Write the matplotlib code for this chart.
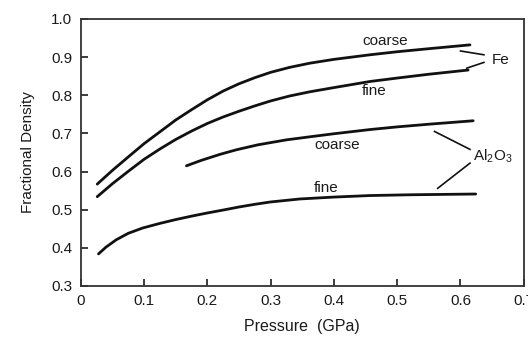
import matplotlib
matplotlib.use("Agg")
import matplotlib.pyplot as plt

plt.rcParams['font.family'] = ['Liberation Sans', 'DejaVu Sans']
plt.rcParams['mathtext.fontset'] = 'custom'
plt.rcParams['mathtext.rm'] = 'Liberation Sans'
plt.rcParams['mathtext.it'] = 'Liberation Sans'

# Data
fe_coarse_x = [0.026, 0.05, 0.077, 0.10, 0.125, 0.15, 0.175, 0.20, 0.225, 0.25,
               0.275, 0.30, 0.33, 0.362, 0.40, 0.457, 0.50, 0.55, 0.615]
fe_coarse_y = [0.567, 0.603, 0.641, 0.673, 0.704, 0.735, 0.762, 0.788, 0.811, 0.830,
               0.846, 0.860, 0.873, 0.884, 0.894, 0.906, 0.914, 0.922, 0.932]
fe_fine_x = [0.026, 0.05, 0.077, 0.10, 0.125, 0.15, 0.175, 0.20, 0.225, 0.25,
             0.275, 0.30, 0.33, 0.362, 0.40, 0.457, 0.50, 0.55, 0.612]
fe_fine_y = [0.534, 0.568, 0.603, 0.632, 0.659, 0.684, 0.706, 0.726, 0.743, 0.758,
             0.772, 0.785, 0.798, 0.809, 0.820, 0.836, 0.845, 0.855, 0.866]
al_coarse_x = [0.167, 0.19, 0.22, 0.246, 0.28, 0.325, 0.362, 0.40, 0.457, 0.50, 0.55, 0.62]
al_coarse_y = [0.615, 0.629, 0.645, 0.657, 0.670, 0.683, 0.691, 0.699, 0.710, 0.717, 0.724, 0.733]
al_fine_x = [0.028, 0.04, 0.056, 0.075, 0.098, 0.125, 0.15, 0.175, 0.199, 0.225,
             0.25, 0.275, 0.299, 0.346, 0.40, 0.457, 0.52, 0.624]
al_fine_y = [0.384, 0.402, 0.421, 0.438, 0.452, 0.464, 0.474, 0.483, 0.491, 0.499,
             0.507, 0.514, 0.520, 0.528, 0.533, 0.537, 0.539, 0.541]

x_ticks = [0, 0.1, 0.2, 0.3, 0.4, 0.5, 0.6, 0.7]
x_tick_labels = ['0', '0.1', '0.2', '0.3', '0.4', '0.5', '0.6', '0.7']
y_ticks = [0.3, 0.4, 0.5, 0.6, 0.7, 0.8, 0.9, 1.0]
y_tick_labels = ['0.3', '0.4', '0.5', '0.6', '0.7', '0.8', '0.9', '1.0']

fig = plt.figure(figsize=(5.28, 3.38), dpi=100)
ax = fig.add_axes([0.153, 0.154, 0.839, 0.790])

lc = '#111111'
lw = 2.0
for xs, ys in [(fe_coarse_x, fe_coarse_y), (fe_fine_x, fe_fine_y),
               (al_coarse_x, al_coarse_y), (al_fine_x, al_fine_y)]:
    ax.plot(xs, ys, color=lc, lw=lw, solid_capstyle='round', solid_joinstyle='round')

ax.set_xlim(0, 0.7)
ax.set_ylim(0.3, 1.0)
ax.set_xticks(x_ticks)
ax.set_xticklabels(x_tick_labels)
ax.set_yticks(y_ticks)
ax.set_yticklabels(y_tick_labels)
ax.tick_params(direction='in', length=5, width=1.2, labelsize=11,
               colors='#1a1a1a', pad=6)
for s in ax.spines.values():
    s.set_linewidth(1.3)
    s.set_color('#333333')

ax.set_xlabel('Pressure  (GPa)', fontsize=11.5, color='#1a1a1a', labelpad=8)
ax.set_ylabel('Fractional Density', fontsize=11, color='#1a1a1a', labelpad=12)

tc = '#1a1a1a'
fs = 11
ax.text(0.481, 0.943, 'coarse', fontsize=fs, color=tc, ha='center', va='center')
ax.text(0.463, 0.812, 'fine', fontsize=fs, color=tc, ha='center', va='center')
ax.text(0.663, 0.893, 'Fe', fontsize=fs, color=tc, ha='center', va='center')
ax.text(0.405, 0.670, 'coarse', fontsize=fs, color=tc, ha='center', va='center')
ax.text(0.387, 0.556, 'fine', fontsize=fs, color=tc, ha='center', va='center')
ax.text(0.651, 0.640, r'Al$_2$O$_3$', fontsize=fs, color=tc, ha='center', va='center')

llw = 1.2
ax.plot([0.600, 0.637], [0.916, 0.906], color=lc, lw=llw)
ax.plot([0.610, 0.637], [0.871, 0.886], color=lc, lw=llw)
ax.plot([0.559, 0.615], [0.705, 0.658], color=lc, lw=llw)
ax.plot([0.615, 0.564], [0.622, 0.556], color=lc, lw=llw)

fig.savefig('out.png', dpi=100)
